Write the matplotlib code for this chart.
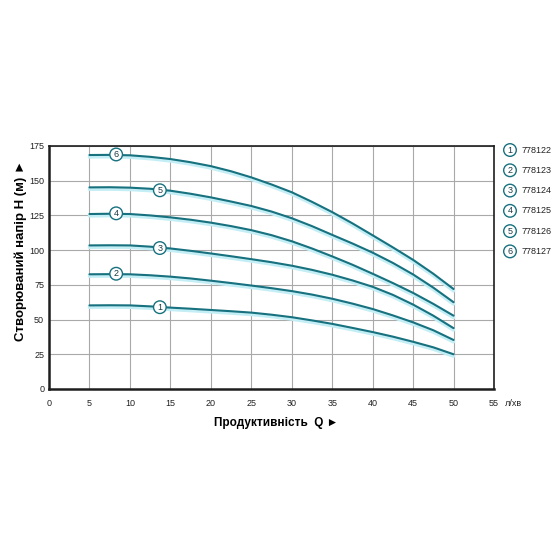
import matplotlib
matplotlib.use("Agg")
import matplotlib.pyplot as plt
import matplotlib.patheffects as pe

# flow, l/min
flow = [5, 7.5, 10, 12.5, 15, 17.5, 20, 22.5, 25, 27.5,
        30, 32.5, 35, 37.5, 40, 42.5, 45, 47.5, 50]

# head curves, m
head_1 = [60.2, 60.3, 60.2, 59.5, 58.6, 57.8, 56.9, 56.0, 55.0, 53.5,
          51.7, 49.4, 46.9, 44.0, 41.0, 37.7, 34.0, 30.0, 25.0]
head_2 = [82.6, 82.7, 82.6, 81.9, 80.9, 79.6, 78.0, 76.3, 74.5, 72.6,
          70.5, 68.0, 65.0, 61.5, 57.6, 53.0, 48.0, 42.3, 35.3]
head_3 = [103.4, 103.5, 103.4, 102.5, 101.2, 99.5, 97.6, 95.6, 93.5, 91.3,
          88.8, 85.8, 82.3, 78.2, 73.6, 67.8, 60.8, 52.8, 43.8]
head_4 = [126.0, 126.2, 126.0, 125.0, 123.6, 121.9, 119.8, 117.3, 114.4, 110.8,
          106.4, 101.2, 95.5, 89.5, 83.0, 76.3, 69.2, 61.3, 52.8]
head_5 = [145.2, 145.3, 145.0, 144.2, 142.8, 140.6, 138.0, 135.0, 131.8, 127.8,
          123.0, 117.3, 111.0, 104.8, 98.2, 90.8, 82.5, 73.0, 62.5]
head_6 = [168.5, 168.6, 168.3, 167.2, 165.6, 163.3, 160.5, 156.8, 152.4, 147.3,
          141.7, 134.8, 127.4, 119.3, 110.7, 102.0, 93.0, 83.0, 72.0]

curves = [head_1, head_2, head_3, head_4, head_5, head_6]
labels = ["1", "2", "3", "4", "5", "6"]
models = ["778122", "778123", "778124", "778125", "778126", "778127"]
# badge positions on each curve (flow index)
badge_i = [4, 1, 4, 1, 4, 1]
badge_dq = [-1.3, 0.8, -1.3, 0.8, -1.3, 0.8]

x_ticks = [0, 5, 10, 15, 20, 25, 30, 35, 40, 45, 50, 55]
y_ticks = [0, 25, 50, 75, 100, 125, 150, 175]

teal = "#17717f"
glow = "#c4eef5"

plt.rcParams["font.family"] = ["Liberation Sans", "DejaVu Sans"]

fig = plt.figure(figsize=(5.6, 5.6), dpi=100)
ax = fig.add_axes([0.0875, 0.3054, 0.7946, 0.4339])

for h in curves:
    ax.plot(flow, h, color=teal, lw=1.5, solid_capstyle="round", solid_joinstyle="round",
            path_effects=[pe.Stroke(linewidth=2.6, foreground=glow, offset=(0, -1.3)),
                          pe.Normal()])

for h, lab, i, dq in zip(curves, labels, badge_i, badge_dq):
    ax.text(flow[i] + dq, h[i] + 0.3, lab, ha="center", va="center", fontsize=6.5,
            color="#1a3a44",
            bbox=dict(boxstyle="circle,pad=0.2", fc="white", ec=teal, lw=1.0),
            zorder=5)

ax.set_xlim(0, 55)
ax.set_ylim(0, 175)
ax.set_xticks(x_ticks)
ax.set_yticks(y_ticks)
ax.tick_params(length=0, labelsize=6.5, colors="#222222")
ax.tick_params(axis="x", pad=7)
ax.tick_params(axis="y", pad=3.5)
ax.grid(True, color="#a9a9a9", lw=0.8)
ax.set_axisbelow(True)
for s in ax.spines.values():
    s.set_color("#1e1e1e")
    s.set_linewidth(1.2)
ax.spines["left"].set_linewidth(1.8)
ax.spines["bottom"].set_linewidth(1.8)

ax.annotate("л/хв", xy=(56.4, 0), xycoords=("data", "axes fraction"),
            xytext=(0, -7), textcoords="offset points",
            fontsize=6.5, ha="left", va="top", color="#222222")
ax.set_xlabel("Продуктивність  Q ►", fontsize=8.5, fontweight="bold")
ax.xaxis.set_label_coords(0.51, -0.115)
ax.set_ylabel("Створюваний напір H (м) ►", fontsize=9.5, fontweight="bold")
ax.yaxis.set_label_coords(-0.05, 0.57)

# legend on the right
for k, (lab, mod) in enumerate(zip(labels, models)):
    ty = 0.7321 - k * 0.0362
    fig.text(0.9107, ty, lab, ha="center", va="center", fontsize=6.5, color="#1a3a44",
             bbox=dict(boxstyle="circle,pad=0.2", fc="white", ec=teal, lw=1.0))
    fig.text(0.932, ty, mod, ha="left", va="center", fontsize=6.5, color="#222222")

fig.savefig("out.png", dpi=100)
